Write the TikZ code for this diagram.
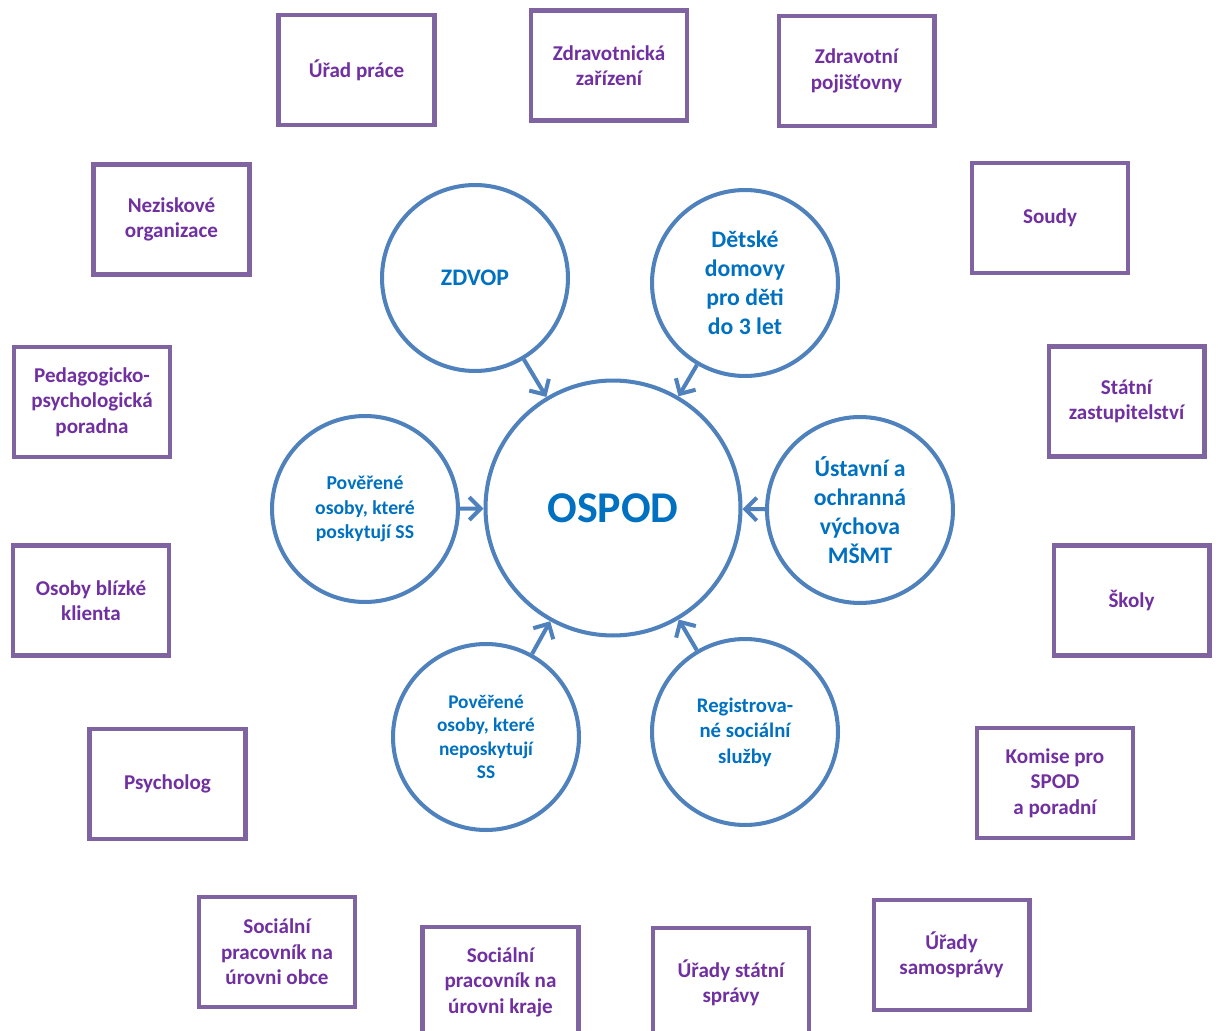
\documentclass[tikz,border=0pt]{standalone}
\usepackage{fontspec}
\setmainfont{Carlito}
\usetikzlibrary{arrows.meta}
\definecolor{boxline}{HTML}{8064A2}
\definecolor{boxtext}{HTML}{7030A0}
\definecolor{circline}{HTML}{4F81BD}
\definecolor{circtext}{HTML}{0070C0}
\begin{document}
\begin{tikzpicture}[x=0.02cm,y=-0.02cm,
  pbox/.style={draw=boxline,line width=2.3pt,minimum width=3.12cm,minimum height=2.2cm,
    align=center,text=boxtext,font=\fontsize{12}{14.5}\selectfont\bfseries,inner sep=2pt},
  circ/.style={draw=circline,line width=2.3pt,circle,minimum size=3.72cm,inner sep=0pt,
    align=center,text=circtext},
  ctxt/.style={font=\fontsize{13.5}{16.5}\selectfont\bfseries},
  stxt/.style={font=\fontsize{11.2}{13.9}\selectfont\bfseries},
  arr/.style={draw=circline,line width=2.3pt,-{Straight Barb[length=6.5pt,width=13pt,line width=2.3pt]}}]
\useasboundingbox (0,0) rectangle (1218,1031);
% outer boxes
\node[pbox] (urad) at (356.5,70) {Úřad práce};
\node[pbox] (zdrz) at (609,65.5) {Zdravotnická\\zařízení};
\node[pbox] (zdrp) at (856.5,71) {Zdravotní\\pojišťovny};
\node[pbox] (nezi) at (171.5,219.5) {Neziskové\\organizace};
\node[pbox] (soud) at (1050,218) {Soudy};
\node[pbox] (peda) at (92,402) {Pedagogicko-\\psychologická\\poradna};
\node[pbox] (stat) at (1126.5,401.5) {Státní\\zastupitelství};
\node[pbox] (osob) at (91,600.5) {Osoby blízké\\klienta};
\node[pbox] (skol) at (1131.5,600.5) {Školy};
\node[pbox] (psyc) at (167.5,784) {Psycholog};
\node[pbox] (komi) at (1055,783) {Komise pro\\SPOD\\a poradní};
\node[pbox] (sobc) at (277,952) {Sociální\\pracovník na\\úrovni obce};
\node[pbox] (skra) at (500.5,982) {Sociální\\pracovník na\\úrovni kraje};
\node[pbox] (usta) at (731,983) {Úřady státní\\správy};
\node[pbox] (usam) at (951.5,955) {Úřady\\samosprávy};
% circles
\node[circ,minimum size=5.1cm,font=\fontsize{25}{30}\selectfont\bfseries] (ospod) at (613,508) {OSPOD};
\node[circ,ctxt] (zdvop) at (475,278) {ZDVOP};
\node[circ,ctxt] (ddom) at (745,283) {Dětské\\domovy\\pro děti\\do 3 let};
\node[circ,stxt] (pos) at (365,509) {Pověřené\\osoby, které\\poskytují SS};
\node[circ,ctxt] (ust) at (860,510) {Ústavní a\\ochranná\\výchova\\MŠMT};
\node[circ,font=\fontsize{11}{13.4}\selectfont\bfseries] (npos) at (486,737) {Pověřené\\osoby, které\\neposkytují\\SS};
\node[circ,font=\fontsize{11.8}{14.5}\selectfont\bfseries] (reg) at (745,732) {Registrova-\\né sociální\\služby};
% arrows
\draw[arr] (zdvop) -- (ospod);
\draw[arr] (ddom) -- (ospod);
\draw[arr] (pos) -- (ospod);
\draw[arr] (ust) -- (ospod);
\draw[arr] (npos) -- (ospod);
\draw[arr] (reg) -- (ospod);
\end{tikzpicture}
\end{document}
